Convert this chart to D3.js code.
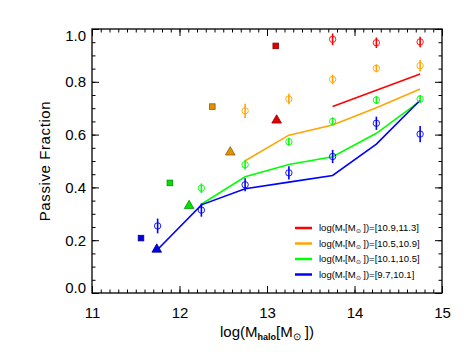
<!DOCTYPE html>
<html>
<head>
<meta charset="utf-8">
<script src="https://cdn.jsdelivr.net/npm/d3@7"></script>
<style>
  body { margin: 0; background: #fff; }
  svg { display: block; font-family: "Liberation Sans", Arial, sans-serif; }
</style>
</head>
<body>
<svg id="chart"></svg>
<script>
// stellar mass bins, top to bottom in the legend
const massBins = ['[10.9,11.3]', '[10.5,10.9]', '[10.1,10.5]', '[9.7,10.1]'];
const binColors = ['#ff0000', '#ffa500', '#00ff00', '#0000ff'];

// open circles with error bars
const redCircleX = [13.75, 14.25, 14.75];
const redCircleY = [0.961, 0.948, 0.951];
const redCircleErr = [0.022, 0.02, 0.02];
const orangeCircleX = [12.75, 13.25, 13.75, 14.25, 14.75];
const orangeCircleY = [0.690, 0.735, 0.809, 0.851, 0.861];
const orangeCircleErr = [0.027, 0.02, 0.018, 0.015, 0.022];
const greenCircleX = [12.25, 12.75, 13.25, 13.75, 14.25, 14.75];
const greenCircleY = [0.397, 0.486, 0.573, 0.650, 0.731, 0.735];
const greenCircleErr = [0.018, 0.018, 0.015, 0.015, 0.015, 0.015];
const blueCircleX = [11.75, 12.25, 12.75, 13.25, 13.75, 14.25, 14.75];
const blueCircleY = [0.254, 0.314, 0.410, 0.455, 0.517, 0.643, 0.602];
const blueCircleErr = [0.028, 0.025, 0.025, 0.025, 0.025, 0.025, 0.031];

// model lines
const redLineX = [13.75, 14.25, 14.75];
const redLineY = [0.706, 0.768, 0.830];
const orangeLineX = [12.75, 13.25, 13.75, 14.25, 14.75];
const orangeLineY = [0.501, 0.598, 0.636, 0.702, 0.773];
const greenLineX = [12.25, 12.75, 13.25, 13.75, 14.25, 14.75];
const greenLineY = [0.336, 0.440, 0.487, 0.516, 0.605, 0.727];
const blueLineX = [11.75, 12.25, 12.75, 13.25, 13.75, 14.25, 14.75];
const blueLineY = [0.165, 0.334, 0.395, 0.420, 0.445, 0.564, 0.730];

// filled squares and triangles (red, orange, green, blue)
const squareX = [13.10, 12.375, 11.89, 11.56];
const squareY = [0.936, 0.706, 0.417, 0.208];
const triangleX = [13.11, 12.58, 12.11, 11.74];
const triangleY = [0.658, 0.537, 0.334, 0.169];

const xTicks = [11, 12, 13, 14, 15];
const yTicks = [0.0, 0.2, 0.4, 0.6, 0.8, 1.0];

const width = 469, height = 352;
const margin = {left: 92, right: 27, top: 29, bottom: 59};

const svg = d3.select('#chart').attr('width', width).attr('height', height);

const x = d3.scaleLinear().domain([11, 15]).range([margin.left, width - margin.right]);
const y = d3.scaleLinear().domain([0, 1]).range([height - margin.bottom, margin.top]);

const xMinor = d3.range(11, 15.001, 0.1).map(d => +d.toFixed(1));
const yMinor = d3.range(0, 1.001, 0.05).map(d => +d.toFixed(2));

function styleAxis(g) {
    g.select('.domain').remove();
    g.selectAll('line').attr('stroke', '#000').attr('stroke-width', 1);
}

// bottom
svg.append('g').attr('transform', `translate(0,${y(0)})`)
    .call(d3.axisBottom(x).tickValues(xMinor).tickSize(-3.5).tickFormat(''))
    .call(styleAxis);
svg.append('g').attr('transform', `translate(0,${y(0)})`)
    .call(d3.axisBottom(x).tickValues(xTicks).tickSize(-7).tickPadding(14).tickFormat(d3.format('d')))
    .call(styleAxis)
    .selectAll('text').attr('font-size', 15).attr('fill', '#000');
// top
svg.append('g').attr('transform', `translate(0,${y(1)})`)
    .call(d3.axisTop(x).tickValues(xMinor).tickSize(-3.5).tickFormat(''))
    .call(styleAxis);
svg.append('g').attr('transform', `translate(0,${y(1)})`)
    .call(d3.axisTop(x).tickValues(xTicks).tickSize(-7).tickFormat(''))
    .call(styleAxis);
// left
svg.append('g').attr('transform', `translate(${x(11)},0)`)
    .call(d3.axisLeft(y).tickValues(yMinor).tickSize(-3.5).tickFormat(''))
    .call(styleAxis);
const yAx = svg.append('g').attr('transform', `translate(${x(11)},0)`)
    .call(d3.axisLeft(y).tickValues(yTicks).tickSize(-7).tickPadding(6).tickFormat(d3.format('.1f')))
    .call(styleAxis);
yAx.selectAll('text').attr('font-size', 15).attr('fill', '#000')
    .attr('dy', d => d === 0 ? '-0.05em' : d === 1 ? '0.75em' : '0.32em');
// right
svg.append('g').attr('transform', `translate(${x(15)},0)`)
    .call(d3.axisRight(y).tickValues(yMinor).tickSize(-3.5).tickFormat(''))
    .call(styleAxis);
svg.append('g').attr('transform', `translate(${x(15)},0)`)
    .call(d3.axisRight(y).tickValues(yTicks).tickSize(-7).tickFormat(''))
    .call(styleAxis);

// frame
svg.append('rect')
    .attr('x', x(11)).attr('y', y(1))
    .attr('width', x(15) - x(11)).attr('height', y(0) - y(1))
    .attr('fill', 'none').attr('stroke', '#000').attr('stroke-width', 1.3);

// axis titles
svg.append('text')
    .attr('transform', `translate(45,${(y(0) + y(1)) / 2}) rotate(-90)`)
    .attr('text-anchor', 'middle').attr('dy', '0.35em')
    .attr('font-size', 15).attr('letter-spacing', 0.6)
    .text('Passive Fraction');

const xt = svg.append('text')
    .attr('x', (x(11) + x(15)) / 2).attr('y', 337)
    .attr('text-anchor', 'middle').attr('font-size', 15);
xt.append('tspan').text('log(M');
xt.append('tspan').attr('font-size', 9).attr('dy', 3).attr('font-weight', 'bold').text('halo');
xt.append('tspan').attr('dy', -3).text('[M');
xt.append('tspan').attr('font-size', 10).attr('dy', 3).text('\u2299');
xt.append('tspan').attr('dy', -3).text(' ])');

// model lines
const lineSets = [
    [redLineX, redLineY], [orangeLineX, orangeLineY],
    [greenLineX, greenLineY], [blueLineX, blueLineY]
];
const lineGen = d3.line().x(d => x(d[0])).y(d => y(d[1]));
lineSets.forEach(([xs, ys], i) => {
    svg.append('path')
        .attr('d', lineGen(d3.zip(xs, ys)))
        .attr('fill', 'none')
        .attr('stroke', binColors[i])
        .attr('stroke-width', 1.6);
});

// circles with error bars
const circleSets = [
    [redCircleX, redCircleY, redCircleErr],
    [orangeCircleX, orangeCircleY, orangeCircleErr],
    [greenCircleX, greenCircleY, greenCircleErr],
    [blueCircleX, blueCircleY, blueCircleErr]
];
circleSets.forEach(([xs, ys, es], i) => {
    const pts = d3.zip(xs, ys, es);
    const g = svg.append('g').attr('stroke', binColors[i]).attr('fill', 'none');
    g.selectAll('line.err').data(pts).join('line')
        .attr('x1', d => x(d[0])).attr('x2', d => x(d[0]))
        .attr('y1', d => y(d[1] - d[2])).attr('y2', d => y(d[1] + d[2]))
        .attr('stroke-width', 1.6);
    g.selectAll('circle').data(pts).join('circle')
        .attr('cx', d => x(d[0])).attr('cy', d => y(d[1]))
        .attr('r', 3.2).attr('stroke-width', 0.9);
});

// filled squares
svg.selectAll('rect.sq').data(d3.zip(squareX, squareY)).join('rect')
    .attr('class', 'sq')
    .attr('x', d => x(d[0]) - 2.8).attr('y', d => y(d[1]) - 2.8)
    .attr('width', 5.6).attr('height', 5.6)
    .attr('fill', (d, i) => d3.color(binColors[i]).darker(0.35))
    .attr('stroke', (d, i) => d3.color(binColors[i]).darker(1.6))
    .attr('stroke-width', 0.8);

// filled triangles
const tri = d3.symbol().type(d3.symbolTriangle).size(40);
svg.selectAll('path.tri').data(d3.zip(triangleX, triangleY)).join('path')
    .attr('class', 'tri')
    .attr('d', tri)
    .attr('transform', d => `translate(${x(d[0])},${y(d[1]) + 1})`)
    .attr('fill', (d, i) => d3.color(binColors[i]).darker(0.35))
    .attr('stroke', (d, i) => d3.color(binColors[i]).darker(1.6))
    .attr('stroke-width', 0.8);

// legend
const legend = svg.append('g');
massBins.forEach((bin, i) => {
    const ly = 228 + i * 15.5;
    legend.append('line')
        .attr('x1', 295).attr('x2', 312).attr('y1', ly).attr('y2', ly)
        .attr('stroke', binColors[i]).attr('stroke-width', 2.5);
    const t = legend.append('text')
        .attr('x', 319).attr('y', ly).attr('dy', '0.35em')
        .attr('font-size', 9.5).attr('fill', '#000');
    t.append('tspan').text('log(M');
    t.append('tspan').attr('font-size', 6).attr('dy', 2).text('*');
    t.append('tspan').attr('dy', -2).text('[M');
    t.append('tspan').attr('font-size', 6).attr('dy', 2).text('\u2299');
    t.append('tspan').attr('dy', -2).text(' ])=' + bin);
});
</script>
</body>
</html>
